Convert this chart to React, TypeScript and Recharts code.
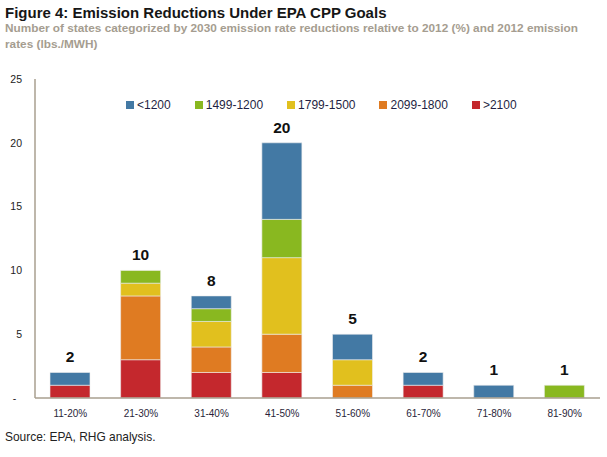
import React from "react";
import { BarChart, Bar, XAxis, YAxis, LabelList } from "recharts";

const categories = ["11-20%", "21-30%", "31-40%", "41-50%", "51-60%", "61-70%", "71-80%", "81-90%"];
const over2100 = [1, 3, 2, 2, 0, 1, 0, 0];
const r2099_1800 = [0, 5, 2, 3, 1, 0, 0, 0];
const r1799_1500 = [0, 1, 2, 6, 2, 0, 0, 0];
const r1499_1200 = [0, 1, 1, 3, 0, 0, 0, 1];
const under1200 = [1, 0, 1, 6, 2, 1, 1, 0];
const yTicks = [0, 5, 10, 15, 20, 25];

const series = [
  { key: "over2100", name: ">2100", color: "#c4282d" },
  { key: "r2099_1800", name: "2099-1800", color: "#df7b22" },
  { key: "r1799_1500", name: "1799-1500", color: "#e1c01e" },
  { key: "r1499_1200", name: "1499-1200", color: "#89b820" },
  { key: "under1200", name: "<1200", color: "#4379a4" },
];
const legendOrder = ["under1200", "r1499_1200", "r1799_1500", "r2099_1800", "over2100"];

const data = categories.map((c, i) => ({
  cat: c,
  over2100: over2100[i],
  r2099_1800: r2099_1800[i],
  r1799_1500: r1799_1500[i],
  r1499_1200: r1499_1200[i],
  under1200: under1200[i],
  total: over2100[i] + r2099_1800[i] + r1799_1500[i] + r1499_1200[i] + under1200[i],
}));

const arial = "Arial, 'Liberation Sans', sans-serif";

const TotalLabel = (props: any) => {
  const { x, y, width, value } = props;
  return (
    <text x={x + width / 2} y={y - 15.5} textAnchor="middle" dominantBaseline="central" fontFamily={arial} fontWeight="bold" fontSize={15.5} fill="#111">
      {value}
    </text>
  );
};

export default function App() {
  return (
    <div style={{ position: "absolute", left: 0, top: 0, width: 607, height: 457, background: "#fff" }}>
      <div style={{ position: "absolute", left: 5, top: 3.7, fontFamily: arial, fontWeight: "bold", fontSize: 15, color: "#161616", whiteSpace: "nowrap" }}>
        Figure 4: Emission Reductions Under EPA CPP Goals
      </div>
      <div style={{ position: "absolute", left: 5, top: 20.2, width: 700, fontFamily: arial, fontWeight: "bold", fontSize: 11.8, lineHeight: "16px", color: "#a59d90", whiteSpace: "nowrap" }}>
        Number of states categorized by 2030 emission rate reductions relative to 2012 (%) and 2012 emission<br />rates (lbs./MWH)
      </div>
      <div style={{ position: "absolute", left: 0, top: 0 }}>
        <BarChart width={607} height={457} data={data} margin={{ top: 79, right: 7, left: 0, bottom: 39 }} barSize={40}>
          <XAxis dataKey="cat" height={20} axisLine={{ stroke: "#a89f8f", strokeWidth: 1.5 }} tickLine={false} tickSize={0} tickMargin={12}
            tick={{ fontFamily: arial, fontSize: 10, fill: "#2a1f3a" }} interval={0} />
          <XAxis xAxisId="t" dataKey="cat" hide />
          <YAxis width={35} domain={[0, 25]} ticks={yTicks} axisLine={{ stroke: "#a89f8f", strokeWidth: 1.5 }} tickLine={false} tickSize={0} tickMargin={13}
            tick={{ fontFamily: arial, fontSize: 10.5, fill: "#222" }} tickFormatter={(v: number) => (v === 0 ? "-\u00a0\u00a0" : String(v))} />
          {series.map((s) => (
            <Bar key={s.key} dataKey={s.key} name={s.name} stackId="a" fill={s.color} stroke="#eeeeee" strokeWidth={0.6} isAnimationActive={false} />
          ))}
          <Bar xAxisId="t" dataKey="total" fill="transparent" stroke="none" isAnimationActive={false}>
            <LabelList dataKey="total" content={<TotalLabel />} />
          </Bar>
        </BarChart>
      </div>
      <div style={{ position: "absolute", left: 0, top: 98, display: "flex", paddingLeft: 126, fontFamily: arial, fontSize: 12, color: "#1f1f44" }}>
        {legendOrder.map((k) => {
          const s = series.find((x) => x.key === k)!;
          return (
            <div key={k} style={{ display: "flex", alignItems: "center", marginRight: 24 }}>
              <div style={{ width: 8, height: 8, background: s.color, marginRight: 3 }} />
              <span>{s.name}</span>
            </div>
          );
        })}
      </div>
      <div style={{ position: "absolute", left: 5, top: 429, fontFamily: arial, fontSize: 13.5, color: "#222", whiteSpace: "nowrap", transform: "scaleX(0.885)", transformOrigin: "left top" }}>
        Source: EPA, RHG analysis.
      </div>
    </div>
  );
}
